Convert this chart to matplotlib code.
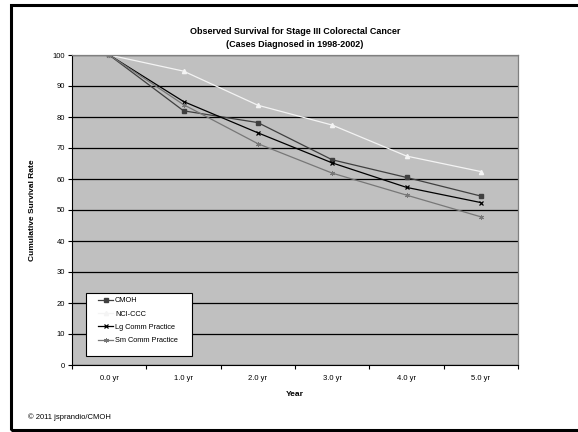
import numpy as np
import matplotlib
matplotlib.use("Agg")
from matplotlib import pyplot as plt
from matplotlib.patches import Rectangle

plt.rcParams['font.family'] = ['Liberation Sans', 'DejaVu Sans']

years = ["0.0 yr", "1.0 yr", "2.0 yr", "3.0 yr", "4.0 yr", "5.0 yr"]
cmoh = [100, 82, 78.2, 66.2, 60.5, 54.5]
nci_ccc = [100, 94.8, 83.8, 77.4, 67.4, 62.4]
lg_comm = [100, 85, 74.9, 65.2, 57.3, 52.4]
sm_comm = [100, 84, 71.4, 61.9, 54.8, 47.8]

fig = plt.figure(figsize=(5.78, 4.32), dpi=100)
fig.patch.set_facecolor("white")

# black slide frame (right side runs off the page)
fig.add_artist(Rectangle((10.5 / 578, 1 - 430 / 432), 1.2, 425 / 432,
                         transform=fig.transFigure, fill=False,
                         edgecolor="black", linewidth=2.2, clip_on=False))

ax = fig.add_axes([72 / 578, 1 - 365 / 432, 446 / 578, 310 / 432])
ax.set_facecolor("#C0C0C0")

x = np.arange(len(years)) + 0.5
ax.plot(x, cmoh, color="#404040", lw=0.9, marker="s", ms=2.6, label="CMOH")
ax.plot(x, nci_ccc, color="#F4F4F4", lw=0.9, marker="^", ms=3, label="NCI-CCC")
ax.plot(x, lg_comm, color="black", lw=0.9, marker="x", ms=3.2, mew=0.9,
        label="Lg Comm Practice")
ax.plot(x, sm_comm, color="#777777", lw=0.9, marker=(6, 2, 0), ms=3.6, mew=0.7,
        label="Sm Comm Practice")

ax.set_xlim(0, len(years))
ax.set_ylim(0, 100)
ax.set_yticks(range(0, 101, 10))
ax.set_xticks(range(len(years) + 1))
ax.set_xticklabels([])
ax.set_xticks(x, minor=True)
ax.set_xticklabels(years, minor=True)
ax.tick_params(axis="x", which="minor", length=0, labelsize=5.5, pad=7)
ax.tick_params(axis="x", which="major", direction="out", length=3, width=0.8)
ax.tick_params(axis="y", direction="out", length=3, width=0.8, labelsize=5.5, pad=2)

ax.yaxis.grid(True, color="black", lw=0.9)
ax.set_axisbelow(True)
for side in ["top", "right"]:
    ax.spines[side].set_color("#808080")
    ax.spines[side].set_linewidth(0.9)
ax.spines["left"].set_color("black")
ax.spines["bottom"].set_color("black")
ax.spines["left"].set_linewidth(0.8)
ax.spines["bottom"].set_linewidth(0.8)

ax.set_title("Observed Survival for Stage III Colorectal Cancer\n(Cases Diagnosed in 1998-2002)",
             fontsize=6.5, fontweight="bold", pad=6, linespacing=1.5)
ax.set_xlabel("Year", fontsize=6, fontweight="bold", labelpad=7)
ax.set_ylabel("Cumulative Survival Rate", fontsize=6, fontweight="bold", labelpad=12)

# legend box drawn separately so its padding can be set per side
x0, x1 = (86 - 72) / 446, (192 - 72) / 446
y0, y1 = (365 - 356) / 310, (365 - 293) / 310
ax.add_patch(Rectangle((x0, y0), x1 - x0, y1 - y0, transform=ax.transAxes,
                       facecolor="white", edgecolor="black", lw=0.8, zorder=5))
leg = ax.legend(loc="upper left", bbox_to_anchor=(x0 + 12 / 446, y1 - 4 / 310),
                fontsize=5.3, frameon=False, borderaxespad=0, borderpad=0,
                handlelength=2.1, handletextpad=0.2, labelspacing=0.85)
leg.set_zorder(6)

fig.text(28 / 578, 1 - 417 / 432, "\u00a9 2011 jsprandio/CMOH", fontsize=5.5,
         va="center", ha="left")

fig.savefig("out.png", dpi=100)
